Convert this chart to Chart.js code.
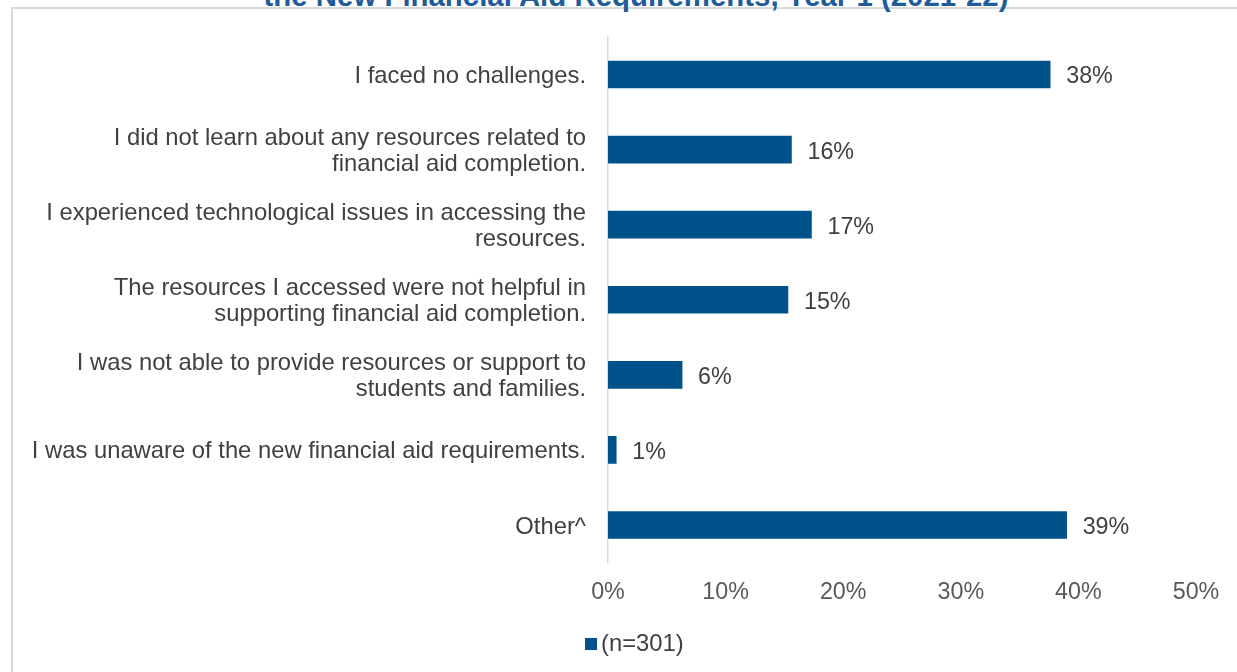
<!DOCTYPE html>
<html>
<head>
<meta charset="utf-8">
<script src="https://cdn.jsdelivr.net/npm/chart.js@4.4.0/dist/chart.umd.min.js"></script>
<style>
    html, body { margin: 0; padding: 0; background: #fff; overflow: hidden; }
    body { width: 1237px; height: 672px; position: relative; font-family: "Liberation Sans", Arial, sans-serif; }
    #frame { position: absolute; left: 11px; top: 7px; width: 1400px; height: 800px; border-top: 2px solid #d9d9d9; border-left: 2px solid #d9d9d9; }
    #title { position: absolute; left: 0; width: 1272px; top: -19.5px; text-align: center; font: bold 29.4px/29px "Liberation Sans", Arial, sans-serif; color: #1f5c99; white-space: nowrap; }
    #chart { position: absolute; left: 0; top: 0; }
    #legend { position: absolute; left: 585px; top: 630px; font-size: 23.8px; line-height: 26px; color: #404040; white-space: nowrap; }
    #legend .box { display: inline-block; width: 12px; height: 12px; background: #00538a; margin-right: 4px; vertical-align: 1px; }
</style>
</head>
<body>
<div id="frame"></div>
<div id="title">the New Financial Aid Requirements, Year 1 (2021-22)</div>
<canvas id="chart" width="1237" height="672"></canvas>
<div id="legend"><span class="box"></span>(n=301)</div>

<script>
// ---- data ----
const categories = [
    ["I faced no challenges."],
    ["I did not learn about any resources related to", "financial aid completion."],
    ["I experienced technological issues in accessing the", "resources."],
    ["The resources I accessed were not helpful in", "supporting financial aid completion."],
    ["I was not able to provide resources or support to", "students and families."],
    ["I was unaware of the new financial aid requirements."],
    ["Other^"]
];
const values = [37.6, 15.6, 17.3, 15.3, 6.3, 0.7, 39.0];
const xTickValues = [0, 10, 20, 30, 40, 50];
const seriesName = "(n=301)";

const barColor = '#00538a';
const textColor = '#404040';
const fontFamily = '"Liberation Sans", Arial, sans-serif';

/* value labels at the end of each bar */
const valueLabels = {
    id: 'valueLabels',
    afterDatasetsDraw(chart) {
        const ctx = chart.ctx;
        const meta = chart.getDatasetMeta(0);
        ctx.save();
        ctx.font = `23.3px ${fontFamily}`;
        ctx.fillStyle = textColor;
        ctx.textAlign = 'left';
        ctx.textBaseline = 'middle';
        meta.data.forEach((bar, i) => {
            ctx.fillText(Math.round(values[i]) + '%', bar.x + 16, bar.y + 2.5);
        });
        ctx.restore();
    }
};

new Chart(document.getElementById('chart').getContext('2d'), {
    type: 'bar',
    data: {
        labels: categories,
        datasets: [{
            label: seriesName,
            data: values,
            backgroundColor: barColor,
            barThickness: 27
        }]
    },
    options: {
        responsive: false,
        animation: false,
        indexAxis: 'y',
        layout: { padding: { top: 37, right: 41, bottom: 0, left: 0 } },
        plugins: {
            legend: { display: false },
            tooltip: { enabled: false }
        },
        scales: {
            x: {
                min: 0,
                max: 50,
                afterBuildTicks: s => { s.ticks = xTickValues.map(v => ({ value: v })); },
                afterFit: s => { s.height = 109.5; },
                grid: { display: false, drawTicks: false, tickLength: 0 },
                border: { display: false },
                ticks: {
                    padding: 16,
                    color: '#595959',
                    font: { family: fontFamily, size: 23.3 },
                    callback: v => v + '%'
                }
            },
            y: {
                afterFit: s => { s.width = 608; },
                grid: { display: false, drawTicks: false, tickLength: 0 },
                border: { display: true, color: '#d9d9d9', width: 1.5 },
                ticks: {
                    padding: 22,
                    labelOffset: 2,
                    color: textColor,
                    font: { family: fontFamily, size: 23.8, lineHeight: 1.1 }
                }
            }
        }
    },
    plugins: [valueLabels]
});
</script>
</body>
</html>
